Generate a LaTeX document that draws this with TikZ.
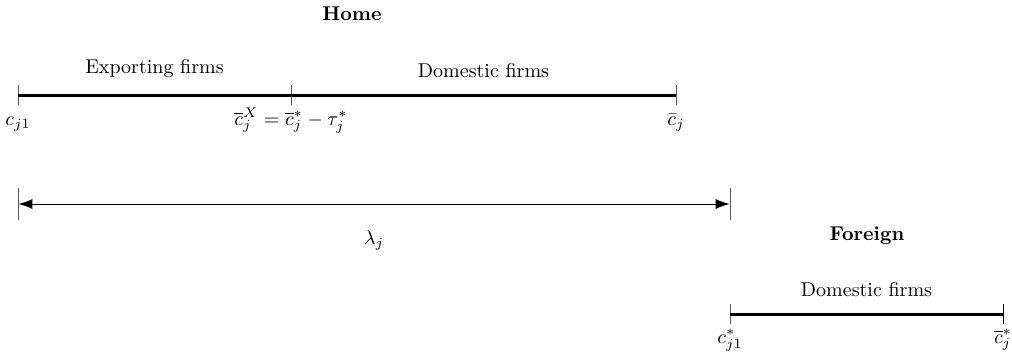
\documentclass[tikz,border=0pt]{standalone}
\usetikzlibrary{arrows.meta}

\begin{document}
\begin{tikzpicture}[x=0.5pt,y=-0.5pt]
    % Node styles
    \tikzset{tick/.style={draw,line width=0.4pt,inner sep=0pt,minimum width=0pt,minimum height=10pt},
             cost/.style={anchor=base},
             firm line/.style={line width=1.5pt},
             title/.style={font=\bfseries}}
    \useasboundingbox (0,0) rectangle (1012,355);

    % --- Home ---
    \node[title] (home) at (352,14) {Home};
    \node[tick] (h0) at (18,95) {};
    \node[tick] (hX) at (291,95) {};
    \node[tick] (h1) at (676,95) {};
    \node[cost] (h0 cost) at (18,125) {$c_{j1}$};
    \node[cost] (hX cost) at (291,125) {$\overline{c}_j^X=\overline{c}_j^*-\tau_j^*$};
    \node[cost] (h1 cost) at (676,125) {$\bar{c}_j$};

    \draw[firm line] (h0) -- (hX) node[midway, above=4.5pt] {Exporting firms};
    \draw[firm line] (hX) -- (h1) node[midway, above=4.5pt] {Domestic firms};

    % --- Distance between the two countries ---
    \node[tick, minimum height=16pt] (l0) at (18,204) {};
    \node[tick, minimum height=16pt] (l1) at (730,204) {};
    \draw[{Latex[length=7pt,width=5pt]}-{Latex[length=7pt,width=5pt]}, line width=0.5pt] (l0) -- (l1) node[midway, below=9.5pt] {$\lambda_j$};

    % --- Foreign ---
    \node[title] (foreign) at (867,236) {Foreign};
    \node[tick] (f0) at (730,314) {};
    \node[tick] (f1) at (1003,314) {};
    \node[cost] (f0 cost) at (730,343) {$c_{j1}^*$};
    \node[cost] (f1 cost) at (1003,343) {$\overline{c}_j^*$};

    \draw[firm line] (f0) -- (f1) node[midway, above=4.5pt] {Domestic firms};
\end{tikzpicture}
\end{document}
